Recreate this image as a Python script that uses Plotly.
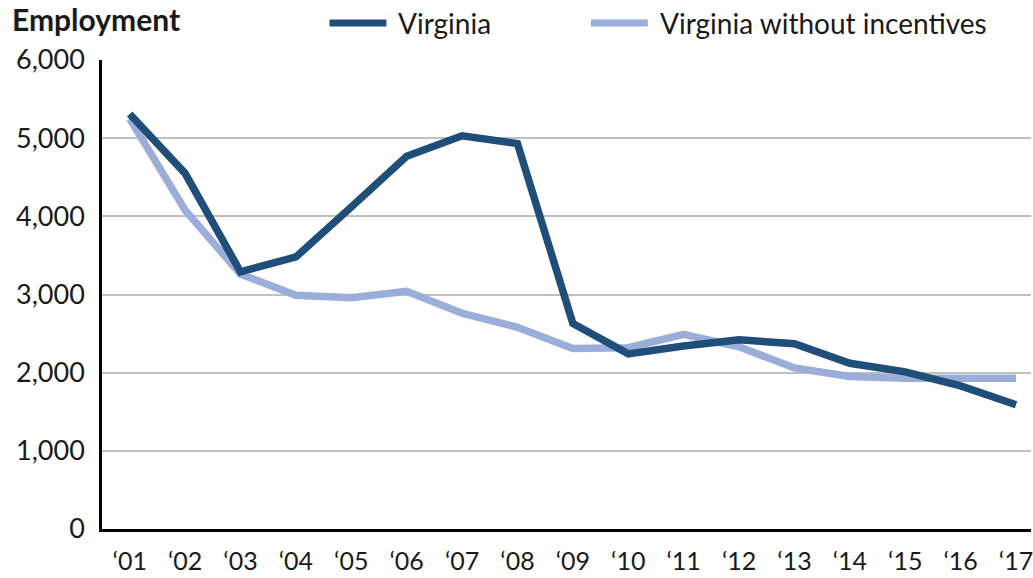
import plotly.graph_objects as go

years = ["\u201801", "\u201802", "\u201803", "\u201804", "\u201805", "\u201806", "\u201807", "\u201808", "\u201809",
         "\u201810", "\u201811", "\u201812", "\u201813", "\u201814", "\u201815", "\u201816", "\u201817"]
virginia = [5310, 4550, 3290, 3480, 4120, 4770, 5030, 4930, 2630, 2240, 2340, 2420, 2370, 2120, 2010, 1830, 1590]
virginia_no_incentives = [5250, 4080, 3260, 2990, 2960, 3040, 2760, 2580, 2310, 2320, 2490, 2330, 2060, 1950, 1930, 1920, 1930]
y_ticks = [0, 1000, 2000, 3000, 4000, 5000, 6000]
y_tick_labels = ["0", "1,000", "2,000", "3,000", "4,000", "5,000", "6,000"]

DARK = "#1f4e79"
LIGHT = "#9aaed9"
FONT = "Lato, Open Sans, sans-serif"

fig = go.Figure()
fig.add_trace(go.Scatter(x=years, y=virginia_no_incentives, mode="lines", name="Virginia without incentives",
                         line=dict(color=LIGHT, width=7.5), showlegend=False))
fig.add_trace(go.Scatter(x=years, y=virginia, mode="lines", name="Virginia",
                         line=dict(color=DARK, width=7.5), showlegend=False))

fig.update_layout(
    width=1033, height=578,
    margin=dict(l=102, r=0, t=60, b=49),
    paper_bgcolor="white", plot_bgcolor="white",
    font=dict(family=FONT, size=26, color="#1a1a1a"),
    xaxis=dict(type="category", range=[-0.5, 16.27], showgrid=False, showline=True,
               linecolor="black", linewidth=2.5, ticks="", tickfont=dict(size=25),
               ticklabelstandoff=8),
    yaxis=dict(range=[0, 6000], tickvals=y_ticks, ticktext=y_tick_labels, showgrid=True,
               gridcolor="#c0c0c0", gridwidth=1.5, zeroline=False, showline=True,
               linecolor="black", linewidth=2.5, ticks="", tickfont=dict(size=27),
               ticklabelstandoff=9),
    showlegend=False,
)

# Title
fig.add_annotation(text="<b>Employment</b>", xref="paper", yref="paper", x=-92/931, y=1 + 41/469,
                   xanchor="left", yanchor="middle", showarrow=False, font=dict(size=30, color="#1a1a1a"))

# Manual legend
legend_items = [("Virginia", DARK, 330), ("Virginia without incentives", LIGHT, 592)]
for label, color, x0 in legend_items:
    fig.add_shape(type="line", xref="paper", yref="paper",
                  x0=(x0 - 102) / 931, x1=(x0 + 57 - 102) / 931,
                  y0=1 + 37/469, y1=1 + 37/469, line=dict(color=color, width=7))
    fig.add_annotation(text=label, xref="paper", yref="paper", x=(x0 + 67 - 102) / 931, y=1 + 37/469,
                       xanchor="left", yanchor="middle", showarrow=False, font=dict(size=28, color="#1a1a1a"))

fig.write_html("out.html", config={"displayModeBar": False},
               post_script="document.body.style.margin='0px';document.body.style.overflow='hidden';")
